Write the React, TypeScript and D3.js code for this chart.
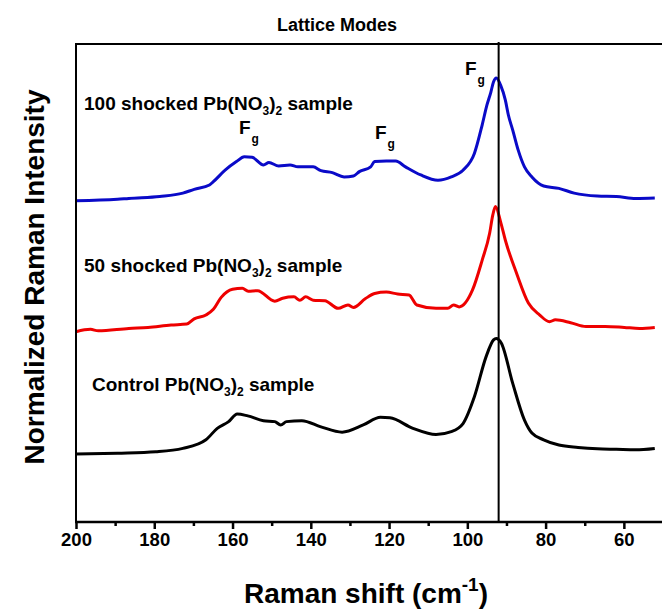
import React, { useEffect, useRef } from 'react'
import * as d3 from 'd3'

const WIDTH = 662
const HEIGHT = 613

// Raman shift (cm-1) and intensity, traces already stacked
const controlShift = [200, 189.4, 179.6, 172.7, 166.8, 163.9, 161, 158.8, 156.1, 152.1, 149.2, 147.7, 146.2, 142.3, 137.4, 132, 126.6, 122.2, 119.8, 113.9, 108, 104.1, 101.1, 98.2, 95.2, 93.3, 92.6, 91.3, 88.4, 85.4, 83.5, 80.5, 76.6, 71.7, 66.8, 61.9, 57, 52.1]
const controlIntensity = [14.2, 14.4, 14.7, 15.4, 17.2, 19.6, 21.0, 22.6, 22.2, 21.2, 21.0, 20.3, 21.0, 21.2, 19.9, 18.8, 20.3, 21.9, 21.8, 19.6, 18.3, 18.9, 20.6, 26.2, 34.6, 38.1, 38.4, 37.4, 29.0, 21.3, 18.6, 17.2, 16.1, 15.6, 15.3, 15.2, 15.1, 15.4]

const shocked50Shift = [200, 196.3, 194.3, 186.5, 181.6, 175.7, 171.7, 169.8, 166.8, 164.9, 162.9, 160, 157.5, 156, 153.6, 149.2, 147.2, 144.3, 142.8, 141.3, 139.4, 136.4, 133, 130.5, 129.1, 126.1, 123.7, 120.7, 117.8, 114.9, 112.9, 108, 105, 103.5, 102.1, 98.7, 96.2, 94.3, 93.5, 92.8, 91.5, 90.3, 87.4, 84.4, 81.5, 79, 77.5, 73.6, 69.7, 64.8, 59.9, 56, 52.1]
const shocked50Intensity = [39.8, 40.3, 40.0, 40.5, 40.7, 41.2, 41.4, 42.5, 43.3, 44.5, 47.0, 48.7, 48.9, 48.3, 48.4, 46.2, 46.8, 47.1, 46.4, 47.1, 46.4, 46.3, 44.7, 45.4, 44.9, 46.7, 47.8, 48.1, 47.7, 47.5, 45.4, 44.7, 44.7, 45.4, 45.0, 48.5, 54.8, 60.4, 64.2, 66.0, 62.8, 59.0, 52.0, 45.8, 43.3, 41.9, 42.3, 41.7, 40.9, 40.9, 40.7, 40.5, 40.7]

const shocked100Shift = [200, 189.4, 186.5, 178.6, 172.7, 169.8, 165.9, 164.9, 161.9, 159, 157, 155, 152.1, 150.7, 148.2, 145.3, 143.3, 139.4, 137.4, 134.5, 131.5, 129.1, 127.6, 124.7, 123.7, 120.7, 118.3, 115.8, 111.9, 107.5, 104.1, 101.1, 98.2, 96.2, 95, 94, 93.3, 92.6, 91.5, 90.3, 89.5, 88.4, 87, 85.4, 83.5, 80.5, 76.6, 72.7, 66.8, 61.9, 57, 52.1]
const shocked100Intensity = [67.2, 67.5, 67.7, 68.1, 68.8, 69.6, 70.5, 71.2, 73.6, 75.4, 76.4, 76.3, 74.7, 75.2, 74.5, 74.7, 74.3, 74.3, 73.5, 73.1, 72.2, 72.4, 73.3, 74.3, 75.4, 75.5, 75.5, 74.3, 72.6, 71.5, 72.2, 73.6, 77.1, 83.1, 87.2, 89.9, 92.1, 92.9, 91.4, 88.3, 85.1, 82.0, 77.8, 74.3, 72.2, 70.3, 69.8, 68.8, 68.2, 68.1, 67.7, 67.8]

const majorTicks = [200, 180, 160, 140, 120, 100, 80, 60]
const minorTicks = [190, 170, 150, 130, 110, 90, 70]
const markerShift = 92

const FONT = '"Liberation Sans", Arial, sans-serif'

export default function App() {
  const axisRef = useRef<SVGGElement>(null)

  const margin = { left: 76, top: 44, bottom: 522 }
  const x = d3.scaleLinear().domain([200, 50]).range([margin.left, WIDTH + 1])
  const y = d3.scaleLinear().domain([0, 100]).range([margin.bottom, margin.top])

  const line = d3.line<[number, number]>()
    .x(d => x(d[0]))
    .y(d => y(d[1]))
    .curve(d3.curveMonotoneX)

  const series = [
    { shift: shocked100Shift, val: shocked100Intensity, color: '#0a0ac8' },
    { shift: shocked50Shift, val: shocked50Intensity, color: '#ee0000' },
    { shift: controlShift, val: controlIntensity, color: '#000000' },
  ]

  useEffect(() => {
    const g = d3.select(axisRef.current)
    g.selectAll('*').remove()
    const major = g.append('g').call(
      d3.axisBottom(x).tickValues(majorTicks).tickSize(7).tickPadding(4).tickFormat(d3.format('d'))
    )
    major.select('.domain').remove()
    major.selectAll('line').attr('stroke-width', 2.5)
    major.selectAll('text')
      .attr('font-family', FONT)
      .attr('font-weight', 'bold')
      .attr('font-size', 18.5)
      .attr('fill', '#000')
    const minor = g.append('g').call(
      d3.axisBottom(x).tickValues(minorTicks).tickSize(4).tickFormat(() => '')
    )
    minor.select('.domain').remove()
    minor.selectAll('line').attr('stroke-width', 2.5)
  }, [])

  const sub = (t: string) => (
    <tspan fontSize={12} dy={5}>{t}</tspan>
  )
  const sampleLabel = (lx: number, ly: number, head: string) => (
    <text x={lx} y={ly} fontFamily={FONT} fontWeight="bold" fontSize={19} fill="#000">
      {head}Pb(NO{sub('3')}<tspan dy={-5}>)</tspan>{sub('2')}<tspan dy={-5}> sample</tspan>
    </text>
  )
  const fg = (lx: number, ly: number) => (
    <text x={lx} y={ly} fontFamily={FONT} fontWeight="bold" fontSize={19} fill="#000">
      F<tspan fontSize={12} dy={9} dx={1}>g</tspan>
    </text>
  )

  return (
    <svg width={WIDTH} height={HEIGHT} style={{ position: 'absolute', left: 0, top: 0, background: '#fff' }}>
      <rect x={0} y={0} width={WIDTH} height={HEIGHT} fill="#fff" />
      <text x={337} y={31} textAnchor="middle" fontFamily={FONT} fontWeight="bold" fontSize={18}>Lattice Modes</text>

      {series.map((s, i) => (
        <path key={i} d={line(s.shift.map((w, j) => [w, s.val[j]] as [number, number])) || ''}
          fill="none" stroke={s.color} strokeWidth={3} strokeLinejoin="round" />
      ))}

      <line x1={x(markerShift)} x2={x(markerShift)} y1={margin.top - 2} y2={margin.bottom} stroke="#000" strokeWidth={2} />

      <rect x={margin.left} y={margin.top} width={WIDTH + 1 - margin.left} height={margin.bottom - margin.top}
        fill="none" stroke="#000" strokeWidth={2} />
      <line x1={margin.left - 1} x2={WIDTH} y1={margin.bottom} y2={margin.bottom} stroke="#000" strokeWidth={2.5} />
      <g ref={axisRef} transform={`translate(0,${margin.bottom})`} />

      {sampleLabel(84, 110, '100 shocked ')}
      {sampleLabel(84, 272, '50 shocked ')}
      {sampleLabel(92, 391, 'Control ')}

      {fg(239, 134)}
      {fg(375, 139)}
      {fg(465, 75)}

      <text x={366} y={603} textAnchor="middle" fontFamily={FONT} fontWeight="bold" fontSize={28}>
        Raman shift (cm<tspan fontSize={19} dy={-12}>-1</tspan><tspan dy={12}>)</tspan>
      </text>
      <text transform="translate(44,277) rotate(-90)" textAnchor="middle" fontFamily={FONT} fontWeight="bold" fontSize={28}>
        Normalized Raman Intensity
      </text>
    </svg>
  )
}
